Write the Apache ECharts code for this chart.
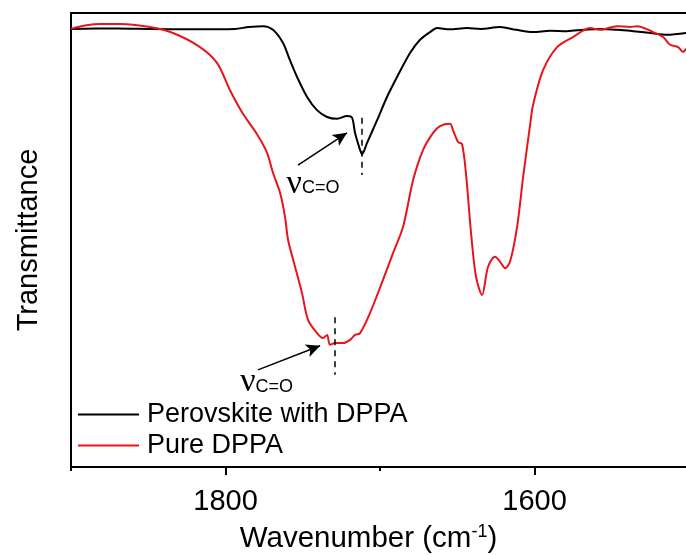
<!DOCTYPE html>
<html><head><meta charset="utf-8">
<script src="https://cdn.jsdelivr.net/npm/echarts@6/dist/echarts.min.js"></script>
<style>html,body{margin:0;padding:0;background:#fff}#c{width:686px;height:555px}</style>
</head><body><div id="c"></div>
<script>
// Wavenumber (cm-1) and transmittance (a.u.)
const wnBlack = [1900,1870,1848.9,1820,1793.9,1785,1775.7,1769.3,1762.8,1758.3,1753.7,1747.2,1740.8,1734.3,1727.8,1721.4,1718.1,1716.2,1712.9,1711.7,1708.4,1701.9,1695.5,1689.0,1680.6,1674.1,1667.6,1663.1,1655,1643.7,1635,1622.3,1612,1601.0,1590,1579.0,1568,1557.6,1546,1536.2,1525,1514.2,1502];
const tBlack  = [96.5,96.6,96.5,96.4,96.5,96.9,97.1,96.3,93.4,89.6,85.9,81.5,78.6,77.1,76.7,77.3,76.9,73.6,69.8,68.9,71.4,76.4,81.5,85.9,91.2,94.1,95.8,96.7,96.4,96.7,96.5,96.9,96.3,95.8,96.1,96.0,96.3,96.5,96.3,96.0,95.6,95.2,95.6];
const wnRed = [1900,1890,1881.2,1868.3,1848.9,1834.0,1816.5,1805.5,1797.1,1788.7,1779.6,1773.1,1769.3,1764.7,1761.5,1759.5,1755.0,1750.5,1746.6,1740.8,1736.9,1734.3,1732.4,1729.1,1723.9,1719.4,1716.2,1712.9,1706.5,1698.1,1691.6,1685.1,1678.6,1672.2,1665.7,1661.2,1654.7,1652.8,1649.5,1646.9,1644.3,1641.1,1637.9,1634.0,1630.1,1625.6,1622.3,1619.1,1615.9,1611.3,1607.4,1602.9,1601.0,1594.5,1585.4,1575.1,1564.1,1557.6,1546.6,1538.2,1533.7,1523.3,1516.8,1512.3,1507.1,1503.9,1502];
const tRed  = [96.5,97.3,97.6,97.6,96.9,95.6,92.5,89.0,83.0,77.8,73.3,69.2,64.8,60.4,55.1,50.0,44.1,38.3,32.4,29.5,28.4,29.1,26.9,27.3,27.3,28.0,29.1,29.5,33.9,41.2,47.1,52.9,63.2,69.8,73.6,75.1,75.6,74.2,71.6,71.1,64.3,51.5,41.9,37.9,44.1,46.3,45.2,43.8,45.2,52.9,63.9,75.3,79.7,87.4,92.5,94.7,96.7,96.3,97.1,96.9,97.1,95.8,94.7,93.0,92.5,91.4,92.1];
const seriesNames = ['Perovskite with DPPA', 'Pure DPPA'];
const majorTicks = [1800, 1600];
const minorTicks = [1900, 1700];
// annotations: dashed marker lines and arrows (data coords)
const dashUpper = [[1711.7, 76.9], [1711.7, 64.3]];
const dashLower = [[1729.1, 33.0], [1729.1, 20.3]];
const arrowUpper = [[1753.1, 66.5], [1721.4, 73.6]];
const arrowLower = [[1779.0, 21.4], [1738.8, 26.7]];
const labelUpper = [1760.5, 62.4];
const labelLower = [1790.5, 18.7];

const FONT = 'Liberation Sans, Arial, sans-serif';
const chart = echarts.init(document.getElementById('c'), null, {renderer: 'canvas'});
const zip = (a, b) => a.map((x, i) => [x, b[i]]);
const lineMark = (pts, arrow) => ({
  silent: true, animation: false,
  symbol: arrow ? ['none', 'arrow'] : ['none', 'none'],
  symbolSize: arrow ? [10, 14] : 0,
  label: {show: false},
  lineStyle: {color: '#000', width: 1.5, type: arrow ? 'solid' : [6, 5]},
  data: [[{coord: pts[0]}, {coord: pts[1]}]]
});
const X_MIN = 1502, X_MAX = 1900;
chart.setOption({
  animation: false,
  backgroundColor: '#fff',
  grid: {left: 71, right: 0, top: 13, bottom: 88, show: false, outerBoundsMode: 'none', containLabel: false},
  legend: {
    orient: 'vertical', left: 78, top: 399, padding: 0, itemGap: 0,
    itemWidth: 61, itemHeight: 2, icon: 'rect',
    textStyle: {fontFamily: FONT, fontSize: 27, color: '#000', lineHeight: 31, padding: [0, 0, 0, 3]},
    data: seriesNames
  },
  xAxis: [{
    type: 'value', inverse: true, min: X_MIN, max: X_MAX,
    name: 'Wavenumber (cm{sup|-1})', nameLocation: 'middle', nameGap: 56,
    nameTextStyle: {fontFamily: FONT, fontSize: 29.5, color: '#000', padding: [0, 20, 0, 0],
      rich: {sup: {fontFamily: FONT, fontSize: 18, color: '#000', verticalAlign: 'top', padding: [0, 0, 14, 0]}}},
    axisLine: {show: true, lineStyle: {color: '#000', width: 2}},
    axisTick: {show: true, length: 8, lineStyle: {color: '#000', width: 2}, customValues: majorTicks},
    axisLabel: {show: true, customValues: majorTicks, fontFamily: FONT, fontSize: 29, color: '#000', margin: 20,
      formatter: v => String(v)},
    splitLine: {show: false}
  }, {
    type: 'value', inverse: true, min: X_MIN, max: X_MAX, position: 'bottom',
    axisLine: {show: false},
    axisTick: {show: true, length: 4, lineStyle: {color: '#000', width: 2}, customValues: minorTicks},
    axisLabel: {show: false}, splitLine: {show: false}
  }, {
    type: 'value', inverse: true, min: X_MIN, max: X_MAX, position: 'top',
    axisLine: {show: true, lineStyle: {color: '#000', width: 2}},
    axisTick: {show: false}, axisLabel: {show: false}, splitLine: {show: false}
  }],
  yAxis: {
    type: 'value', min: 0, max: 100,
    name: 'Transmittance', nameLocation: 'middle', nameGap: 28,
    nameTextStyle: {fontFamily: FONT, fontSize: 29, color: '#000'},
    axisLine: {show: true, lineStyle: {color: '#000', width: 2}},
    axisTick: {show: false}, axisLabel: {show: false}, splitLine: {show: false}
  },
  series: [{
    name: seriesNames[0], type: 'line', data: zip(wnBlack, tBlack), smooth: 0.3,
    showSymbol: false, lineStyle: {color: '#000', width: 2}, itemStyle: {color: '#000'},
    markLine: lineMark(dashUpper, false)
  }, {
    name: seriesNames[1], type: 'line', data: zip(wnRed, tRed), smooth: 0.3,
    showSymbol: false, lineStyle: {color: '#e8141c', width: 2}, itemStyle: {color: '#e8141c'},
    markLine: lineMark(dashLower, false)
  }, {
    name: 'arrows', type: 'line', data: [], markLine: lineMark(arrowUpper, true)
  }, {
    name: 'arrows2', type: 'line', data: [], markLine: lineMark(arrowLower, true)
  }]
});
function nuLabel(pos) {
  const p = chart.convertToPixel({xAxisIndex: 0, yAxisIndex: 0}, pos);
  return {
    type: 'text', x: p[0], y: p[1],
    style: {
      text: '{nu|ν}{sub|C=O}', verticalAlign: 'middle', align: 'left',
      rich: {
        nu: {fontFamily: 'Liberation Serif, Times New Roman, serif', fontSize: 34, fill: '#000'},
        sub: {fontFamily: FONT, fontSize: 18, fill: '#000', padding: [9, 0, 0, 0]}
      }
    }
  };
}
chart.setOption({graphic: [nuLabel(labelUpper), nuLabel(labelLower)]});
</script></body></html>
